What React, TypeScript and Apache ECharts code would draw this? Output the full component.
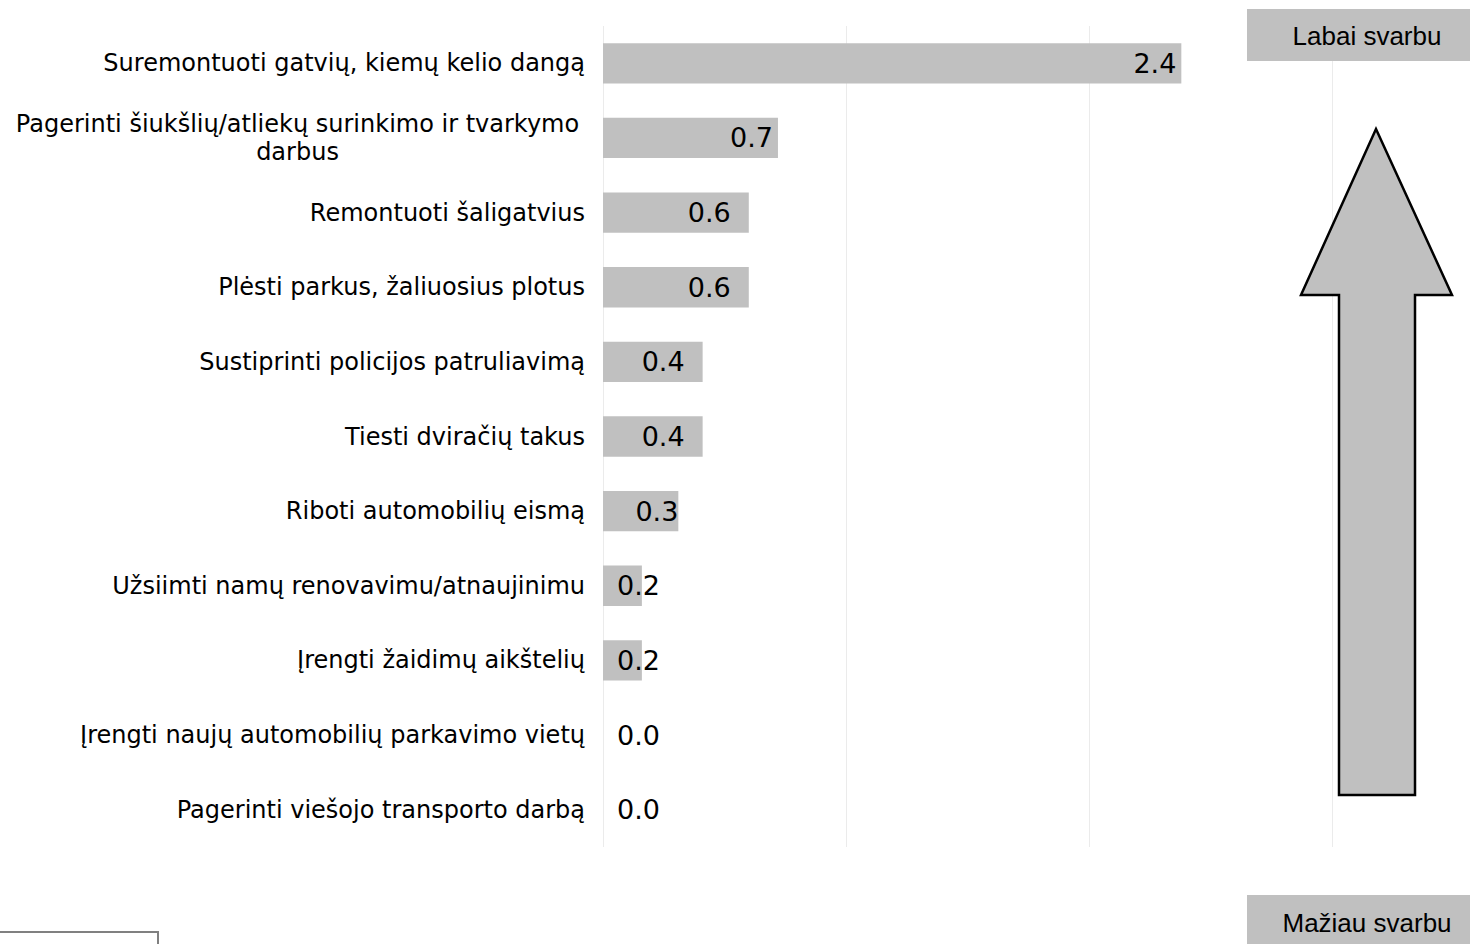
import React, { useEffect, useRef } from "react";
import * as echarts from "echarts";

const categories: string[] = [
  "Suremontuoti gatvių, kiemų kelio dangą",
  "Pagerinti šiukšlių/atliekų surinkimo ir tvarkymo\ndarbus",
  "Remontuoti šaligatvius",
  "Plėsti parkus, žaliuosius plotus",
  "Sustiprinti policijos patruliavimą",
  "Tiesti dviračių takus",
  "Riboti automobilių eismą",
  "Užsiimti namų renovavimu/atnaujinimu",
  "Įrengti žaidimų aikštelių",
  "Įrengti naujų automobilių parkavimo vietų",
  "Pagerinti viešojo transporto darbą",
];
const values: number[] = [2.38, 0.72, 0.6, 0.6, 0.41, 0.41, 0.31, 0.16, 0.16, 0.0, 0.0];
const valueLabels: string[] = ["2.4", "0.7", "0.6", "0.6", "0.4", "0.4", "0.3", "0.2", "0.2", "0.0", "0.0"];
const topLabel = "Labai svarbu";
const bottomLabel = "Mažiau svarbu";

const FONT = "'DejaVu Sans', Verdana, sans-serif";

export default function App() {
  const ref = useRef<HTMLDivElement>(null);
  useEffect(() => {
    document.body.style.margin = "0";
    if (!ref.current) return;
    const chart = echarts.init(ref.current, undefined, { renderer: "svg" });
    const rightInset = (v: number) => (v >= 0.65 ? 5 : v >= 0.35 ? 18 : 0);
    const data = values.map((v) => ({
      value: v,
      label:
        v < 0.25
          ? { position: "insideLeft", distance: 14 }
          : { position: "insideRight", distance: rightInset(v) },
    }));
    const catLabels = categories.map((c) => {
      if (c.includes("\n")) {
        const [a, b] = c.split("\n");
        return `{w|${a}}\n{w|${b}}`;
      }
      return c;
    });
    const boxFont = "26px 'Liberation Sans', Arial, sans-serif";
    chart.setOption({
      animation: false,
      grid: { left: 603, right: 138, top: 26, bottom: 97, containLabel: false },
      xAxis: {
        type: "value",
        min: 0,
        max: 3,
        interval: 1,
        axisLabel: { show: false },
        axisLine: { show: false },
        axisTick: { show: false },
        splitLine: { show: true, lineStyle: { color: "#ebebeb", width: 1 } },
      },
      yAxis: {
        type: "category",
        inverse: true,
        data: catLabels,
        axisLine: { show: false },
        axisTick: { show: false },
        axisLabel: {
          color: "#000",
          fontFamily: FONT,
          fontSize: 24,
          margin: 18,
          lineHeight: 28,
          rich: {
            w: { width: 575, align: "center", fontFamily: FONT, fontSize: 24, color: "#000", lineHeight: 28 },
          },
        },
      },
      series: [
        {
          type: "bar",
          data,
          barCategoryGap: "46%",
          itemStyle: { color: "#c0c0c0" },
          label: {
            show: true,
            color: "#000",
            fontFamily: FONT,
            fontSize: 27,
            formatter: (p: any) => valueLabels[p.dataIndex],
          },
        },
      ],
      graphic: [
        {
          type: "rect",
          z: 100,
          shape: { x: 1247, y: 9, width: 223, height: 52 },
          style: { fill: "#c0c0c0" },
        },
        {
          type: "text",
          z: 101,
          x: 1367,
          y: 36,
          style: {
            text: topLabel,
            fill: "#000",
            font: boxFont,
            textAlign: "center",
            textVerticalAlign: "middle",
          },
        },
        {
          type: "rect",
          z: 100,
          shape: { x: 1247, y: 895, width: 223, height: 49 },
          style: { fill: "#c0c0c0" },
        },
        {
          type: "text",
          z: 101,
          x: 1367,
          y: 923,
          style: {
            text: bottomLabel,
            fill: "#000",
            font: boxFont,
            textAlign: "center",
            textVerticalAlign: "middle",
          },
        },
        {
          type: "polygon",
          z: 100,
          shape: {
            points: [
              [1376, 129],
              [1452, 295],
              [1415, 295],
              [1415, 795],
              [1339, 795],
              [1339, 295],
              [1301, 295],
            ],
          },
          style: { fill: "#c0c0c0", stroke: "#000", lineWidth: 2.5 },
        },
        {
          type: "rect",
          z: 100,
          shape: { x: -2, y: 932, width: 160, height: 30 },
          style: { fill: "none", stroke: "#808080", lineWidth: 2 },
        },
      ],
    });
    return () => chart.dispose();
  }, []);
  return <div ref={ref} style={{ width: 1470, height: 944 }} />;
}
